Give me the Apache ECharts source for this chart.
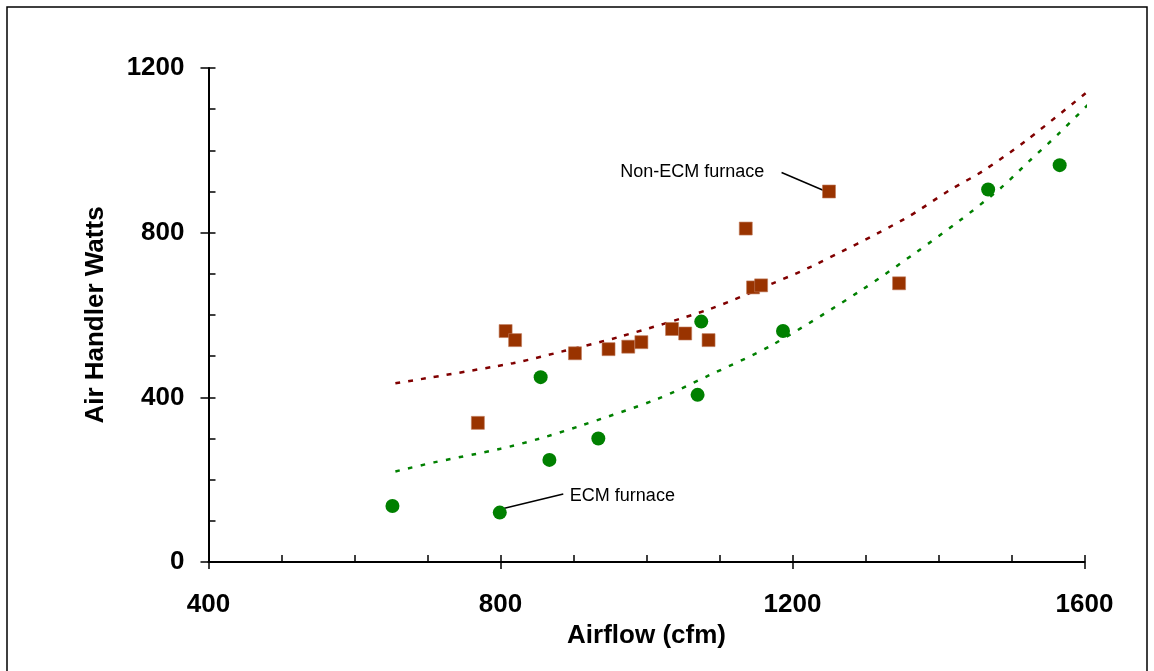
<!DOCTYPE html>
<html>
<head>
<meta charset="utf-8">
<script src="https://cdn.jsdelivr.net/npm/echarts@6/dist/echarts.min.js"></script>
<style>
  html, body { margin: 0; padding: 0; background: #fff; }
  #chart { width: 1154px; height: 671px; }
</style>
</head>
<body>
<div id="chart"></div>
<script>
// ECM furnace 点
const ecmX = [652, 799, 855, 867, 934, 1070, 1075, 1187, 1468, 1566]
const ecmY = [136, 120, 449, 248, 300, 406, 584, 561, 905, 964]
// Non-ECM furnace 点
const nonX = [769, 807, 820, 902, 948, 975, 993, 1035, 1053, 1085, 1136, 1146, 1157, 1250, 1346]
const nonY = [338, 561, 539, 507, 517, 523, 534, 566, 555, 539, 810, 667, 672, 900, 677]
// 趋势线
const nonTrendX = [656, 817, 888, 961, 1086, 1173, 1225, 1353, 1416, 1461, 1521, 1610]
const nonTrendY = [434, 483, 513, 546, 614, 677, 717, 833, 904, 950, 1025, 1151]
const ecmTrendX = [656, 709, 800, 854, 908, 1015, 1084, 1171, 1295, 1370, 1428, 1485, 1525, 1565, 1610]
const ecmTrendY = [220, 242, 275, 300, 330, 396, 452, 526, 661, 753, 828, 908, 975, 1041, 1120]
// 刻度
const xLabels = [400, 800, 1200, 1600]
const yLabels = [0, 400, 800, 1200]

const FONT = 'Liberation Sans, Arial, sans-serif'
const zip = (xs, ys) => xs.map((x, i) => [x, ys[i]])

const chart = echarts.init(document.getElementById('chart'))

const tickLabel = {
  fontFamily: FONT,
  fontWeight: 'bold',
  fontSize: 26,
  color: '#000'
}

const option = {
  animation: false,
  grid: {
    left: 208.5,
    right: 69.5,
    top: 68,
    bottom: 109
  },
  xAxis: [
    {
      type: 'value',
      min: 400,
      max: 1600,
      interval: 100,
      name: 'Airflow (cfm)',
      nameLocation: 'middle',
      nameGap: 60,
      nameTextStyle: tickLabel,
      axisLine: { lineStyle: { color: '#000', width: 2 } },
      axisTick: { inside: true, length: 7, lineStyle: { color: '#000', width: 1.5 } },
      axisLabel: Object.assign({
        margin: 30,
        formatter: v => (xLabels.indexOf(v) >= 0 ? String(v) : '')
      }, tickLabel),
      splitLine: { show: false }
    },
    {
      type: 'value',
      position: 'bottom',
      min: 400,
      max: 1600,
      interval: 400,
      axisLine: { show: false },
      axisTick: { inside: false, length: 7, lineStyle: { color: '#000', width: 1.5 } },
      axisLabel: { show: false },
      splitLine: { show: false }
    }
  ],
  yAxis: [
    {
      type: 'value',
      min: 0,
      max: 1200,
      interval: 100,
      name: 'Air Handler Watts',
      nameLocation: 'middle',
      nameGap: 100,
      nameTextStyle: tickLabel,
      axisLine: { lineStyle: { color: '#000', width: 2 } },
      axisTick: { inside: true, length: 7, lineStyle: { color: '#000', width: 1.5 } },
      axisLabel: Object.assign({
        margin: 24,
        formatter: v => (yLabels.indexOf(v) >= 0 ? String(v) : '')
      }, tickLabel),
      splitLine: { show: false }
    },
    {
      type: 'value',
      position: 'left',
      min: 0,
      max: 1200,
      interval: 400,
      axisLine: { show: false },
      axisTick: { inside: false, length: 8, lineStyle: { color: '#000', width: 1.5 } },
      axisLabel: { show: false },
      splitLine: { show: false }
    }
  ],
  series: [
    {
      type: 'line',
      data: zip(nonTrendX, nonTrendY),
      smooth: 0.3,
      clip: false,
      symbol: 'none',
      lineStyle: { color: '#800000', width: 2.5, type: [5, 8] },
      z: 2
    },
    {
      type: 'line',
      data: zip(ecmTrendX, ecmTrendY),
      smooth: 0.3,
      clip: false,
      symbol: 'none',
      lineStyle: { color: '#008000', width: 2.5, type: [4.5, 8.5] },
      z: 2
    },
    {
      name: 'Non-ECM furnace',
      type: 'scatter',
      data: zip(nonX, nonY),
      symbol: 'rect',
      symbolSize: 13,
      itemStyle: { color: '#993300', borderColor: '#c07a5a', borderWidth: 0.6, opacity: 1 },
      z: 3
    },
    {
      name: 'ECM furnace',
      type: 'scatter',
      data: zip(ecmX, ecmY),
      symbol: 'circle',
      symbolSize: 14,
      itemStyle: { color: '#008000', opacity: 1 },
      z: 4
    }
  ]
}

chart.setOption(option)

// 注释文字与引线 (按数据坐标换算成像素)
function px (x, y) {
  return chart.convertToPixel({ gridIndex: 0 }, [x, y])
}
function buildNotes () {
  const n1 = px(964, 948)
  const n1a = px(1185, 946)
  const n1b = px(1242, 903)
  const n2 = px(895, 160)
  const n2a = px(886, 165)
  const n2b = px(804, 130)
  chart.setOption({
    graphic: [
      {
        type: 'rect',
        shape: { x: 7, y: 7, width: 1140, height: 700 },
        style: { fill: 'none', stroke: '#000', lineWidth: 1.5 },
        silent: true
      },
      {
        type: 'text',
        x: n1[0],
        y: n1[1],
        style: { text: 'Non-ECM furnace', font: '18px ' + FONT, fill: '#000', verticalAlign: 'middle' }
      },
      {
        type: 'line',
        shape: { x1: n1a[0], y1: n1a[1], x2: n1b[0], y2: n1b[1] },
        style: { stroke: '#000', lineWidth: 1.5 }
      },
      {
        type: 'text',
        x: n2[0],
        y: n2[1],
        style: { text: 'ECM furnace', font: '18px ' + FONT, fill: '#000', verticalAlign: 'middle' }
      },
      {
        type: 'line',
        shape: { x1: n2a[0], y1: n2a[1], x2: n2b[0], y2: n2b[1] },
        style: { stroke: '#000', lineWidth: 1.5 }
      }
    ]
  })
}
buildNotes()
</script>
</body>
</html>
